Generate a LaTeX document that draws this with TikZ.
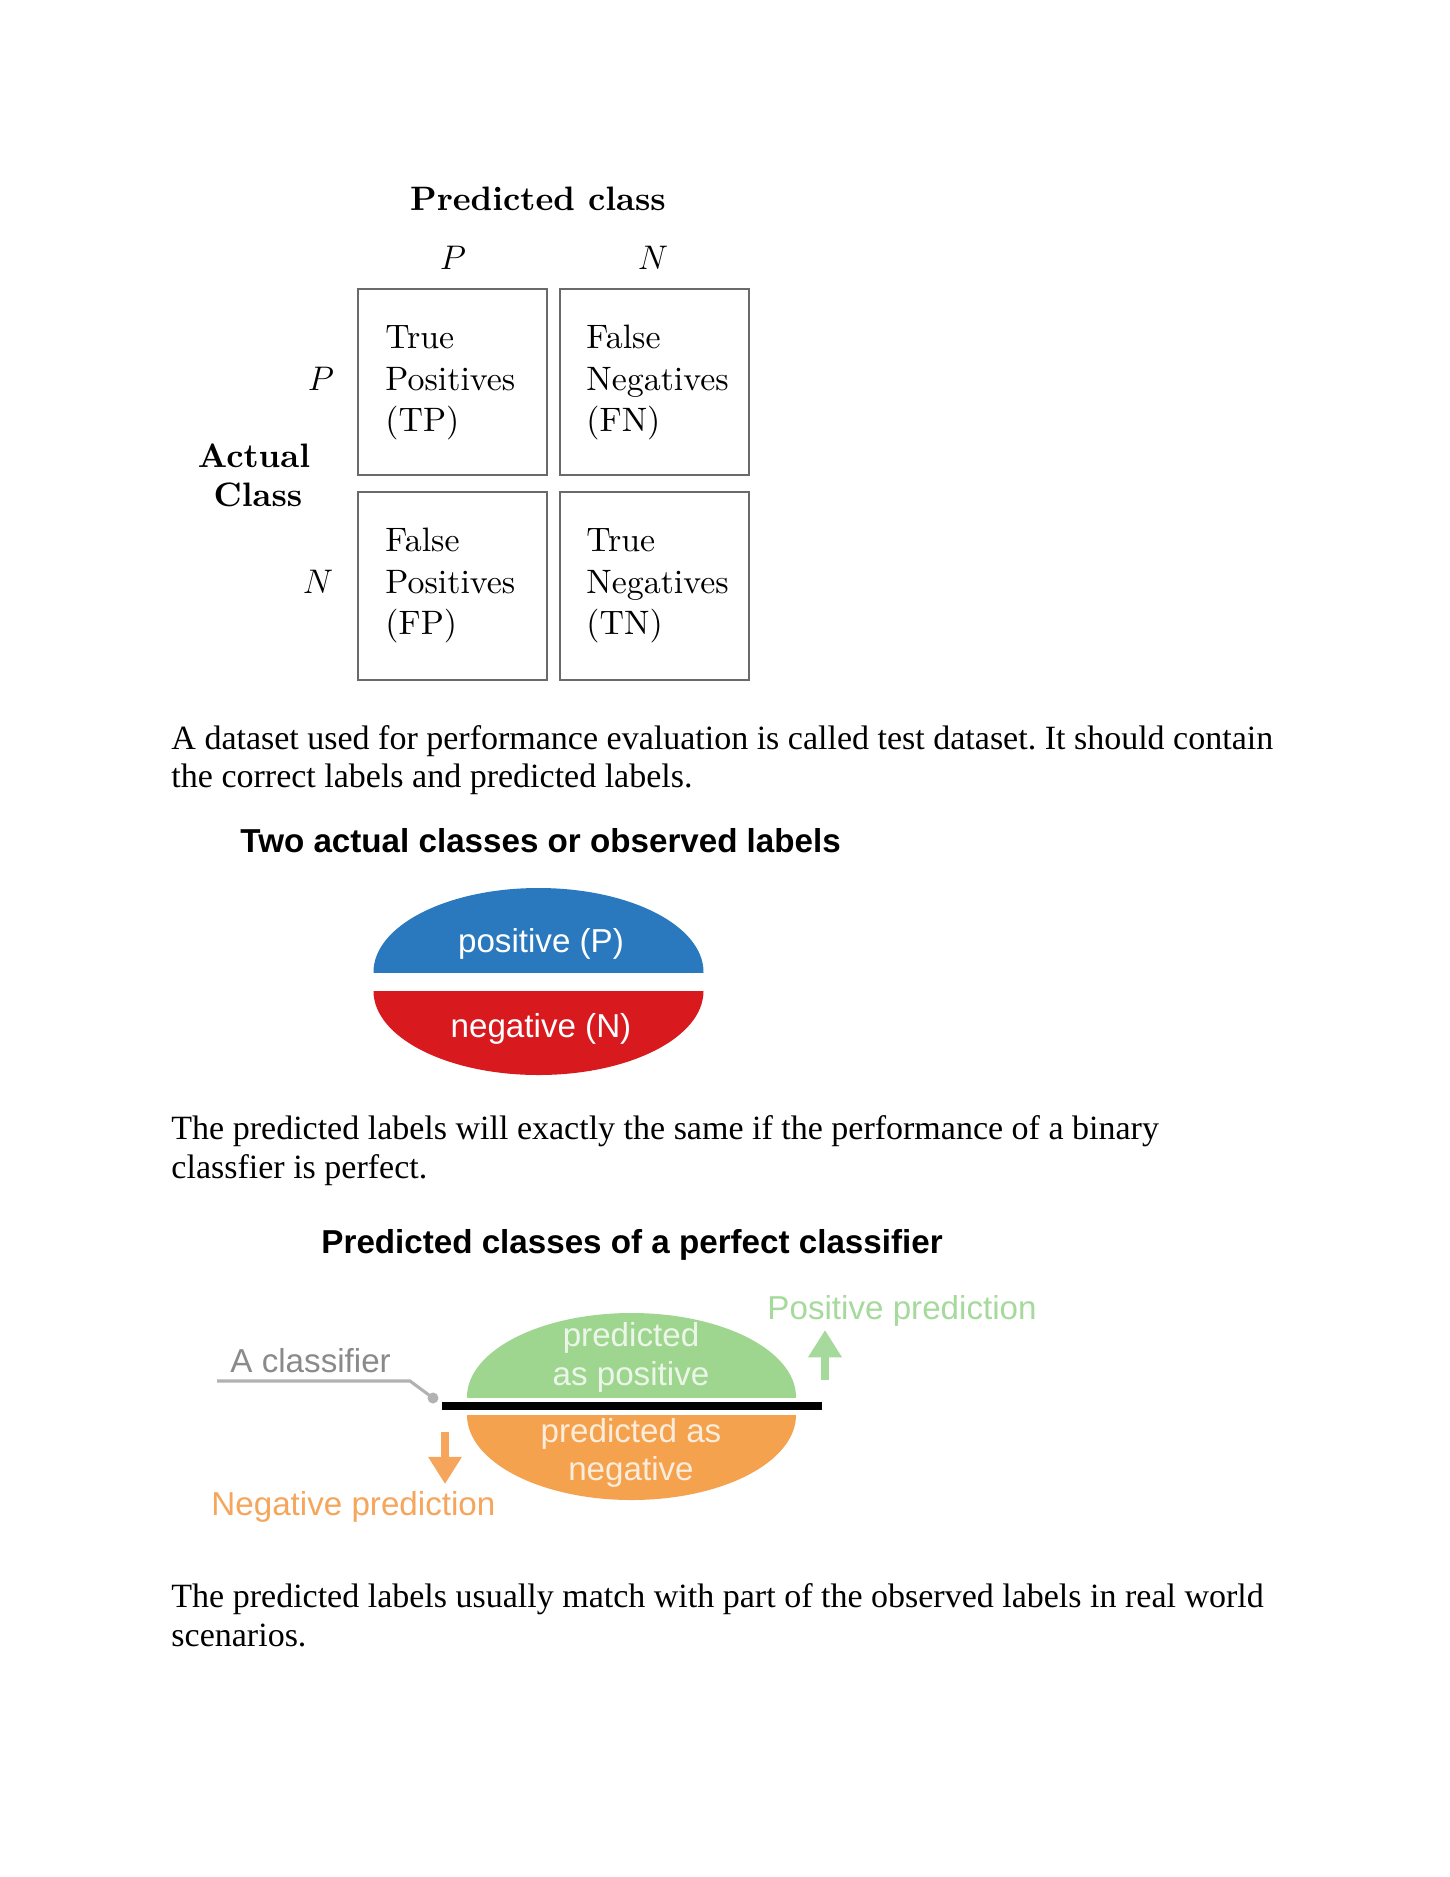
\documentclass[tikz,border=0pt]{standalone}
\usepackage{fontspec}
\newfontfamily\serifface{Liberation Serif}
\newfontfamily\sansface{Liberation Sans}
\newfontfamily\cmten{lmroman10-regular.otf}[BoldFont=lmroman10-bold.otf,ItalicFont=lmroman10-italic.otf]
\usetikzlibrary{arrows.meta}
\definecolor{pblue}{HTML}{2A78BE}
\definecolor{pred}{HTML}{D81A1F}
\definecolor{pgreen}{HTML}{9FD68F}
\definecolor{porange}{HTML}{F4A24E}
\definecolor{ltgreen}{HTML}{A6DA9C}
\definecolor{ltorange}{HTML}{F5A65C}
\definecolor{clgray}{HTML}{8A8A8A}
\definecolor{cellline}{HTML}{6A6A6A}
\frenchspacing
\begin{document}
\begin{tikzpicture}[x=0.4221pt,y=-0.4221pt,
  cell/.style={draw=cellline,line width=0.9pt},
  mtext/.style={font=\cmten\fontsize{14.3}{17.3}\selectfont,inner sep=0pt,anchor=base west},
  mhead/.style={font=\cmten\bfseries\fontsize{14.3}{17.3}\selectfont,inner sep=0pt,anchor=base},
  mmath/.style={font=\fontsize{14.3}{17.3}\selectfont,inner sep=0pt,anchor=base},
  para/.style={font=\serifface\fontsize{14.35}{16.5}\selectfont,inner sep=0pt,anchor=base west},
  ttl/.style={font=\sansface\bfseries\fontsize{14}{16}\selectfont,inner sep=0pt,anchor=base west},
  dlab/.style={font=\sansface\fontsize{14}{16}\selectfont,inner sep=0pt,anchor=base},
  dlabw/.style={font=\sansface\fontsize{14}{16}\selectfont,inner sep=0pt,anchor=base west},
  bigarrow/.style={line width=3pt,-{Triangle[width=13.5pt,length=11.5pt]}}
]
\path[use as bounding box,fill=white] (0,0) rectangle (1450,1877);

% ---------- confusion matrix ----------
\node[mhead] (predhead) at (538,210) {Predicted class};
\node[mmath] (colP) at (453,269) {$P$};
\node[mmath] (colN) at (653,269) {$N$};
\node[mmath] (rowP) at (321,390) {$P$};
\node[mmath] (rowN) at (318,593) {$N$};
\node[mhead] (act1) at (254,467) {Actual};
\node[mhead] (act2) at (258,506) {Class};

\draw[cell] (358,289) rectangle (547,475);
\draw[cell] (560,289) rectangle (749,475);
\draw[cell] (358,492) rectangle (547,680);
\draw[cell] (560,492) rectangle (749,680);

\node[mtext] (tp1) at (385,348) {True};
\node[mtext] (tp2) at (385,390) {Positives};
\node[mtext] (tp3) at (385,431) {(TP)};
\node[mtext] (fn1) at (586,348) {False};
\node[mtext] (fn2) at (586,390) {Negatives};
\node[mtext] (fn3) at (586,431) {(FN)};
\node[mtext] (fp1) at (385,551) {False};
\node[mtext] (fp2) at (385,593) {Positives};
\node[mtext] (fp3) at (385,634) {(FP)};
\node[mtext] (tn1) at (586,551) {True};
\node[mtext] (tn2) at (586,593) {Negatives};
\node[mtext] (tn3) at (586,634) {(TN)};

% ---------- paragraph 1 ----------
\node[para] (p1a) at (171,749) {A dataset used for performance evaluation is called test dataset. It should contain};
\node[para] (p1b) at (171,787) {the correct labels and predicted labels.};

% ---------- two actual classes ----------
\node[ttl] (t2) at (240,852) {Two actual classes or observed labels};
\begin{scope}
  \clip (300,860) rectangle (800,972);
  \fill[pblue] (538.5,972) ellipse [x radius=165, y radius=84];
\end{scope}
\begin{scope}
  \clip (300,991) rectangle (800,1100);
  \fill[pred] (538.5,991) ellipse [x radius=165, y radius=84];
\end{scope}
\node[dlab,text=white] (posP) at (541,952) {positive (P)};
\node[dlab,text=white] (negN) at (541,1037) {negative (N)};

% ---------- paragraph 2 ----------
\node[para] (p2a) at (171,1139) {The predicted labels will exactly the same if the performance of a binary};
\node[para] (p2b) at (171,1178) {classfier is perfect.};

% ---------- perfect classifier ----------
\node[ttl] (t3) at (321,1253) {Predicted classes of a perfect classifier};
\begin{scope}
  \clip (400,1290) rectangle (900,1397);
  \fill[pgreen] (631.5,1397) ellipse [x radius=164.5, y radius=84];
\end{scope}
\begin{scope}
  \clip (400,1415) rectangle (900,1520);
  \fill[porange] (631.5,1415) ellipse [x radius=164.5, y radius=85];
\end{scope}
\coordinate (barL) at (442,1406);
\coordinate (barR) at (822,1406);
\draw[black,line width=3pt] (barL) -- (barR);

\node[dlab,text=white,opacity=0.8] (pp1) at (631,1346) {predicted};
\node[dlab,text=white,opacity=0.8] (pp2) at (631,1385) {as positive};
\node[dlab,text=white,opacity=0.8] (pn1) at (631,1442) {predicted as};
\node[dlab,text=white,opacity=0.8] (pn2) at (631,1480) {negative};

\node[dlabw,text=ltgreen] (posPred) at (767,1319) {Positive prediction};
\coordinate (gaS) at (825,1380);
\coordinate (gaT) at (825,1330);
\draw[bigarrow,ltgreen] (gaS) -- (gaT);

\node[dlabw,text=clgray] (acl) at (230,1372) {A classifier};
\coordinate (cl0) at (217,1381);
\coordinate (cl1) at (410,1381);
\coordinate (cldot) at (433,1398);
\draw[black!30,line width=1.3pt] (cl0) -- (cl1) -- (cldot);
\fill[black!30] (cldot) circle [radius=5.5];

\coordinate (oaS) at (445,1432);
\coordinate (oaT) at (445,1484);
\draw[bigarrow,ltorange] (oaS) -- (oaT);
\node[dlabw,text=ltorange] (negPred) at (211,1515) {Negative prediction};

% ---------- paragraph 3 ----------
\node[para] (p3a) at (171,1607) {The predicted labels usually match with part of the observed labels in real world};
\node[para] (p3b) at (171,1646) {scenarios.};
\end{tikzpicture}
\end{document}
